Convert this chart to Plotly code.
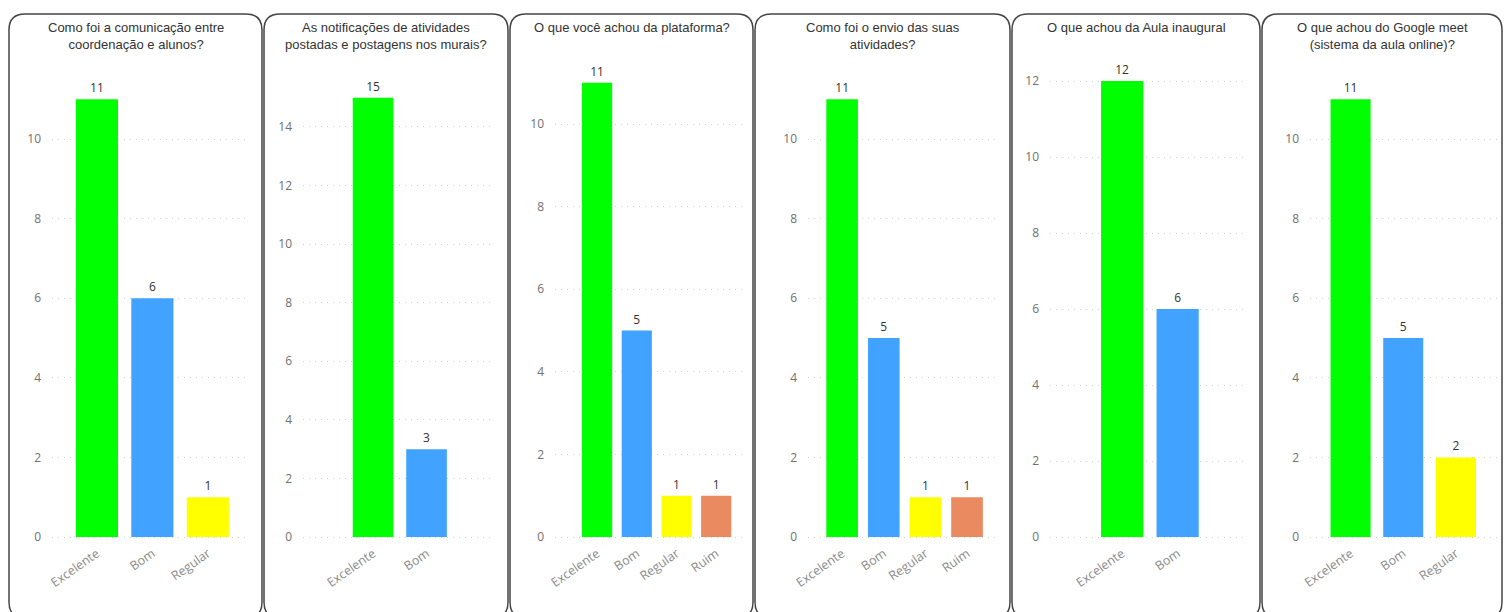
import plotly.graph_objects as go

W, H = 1504, 612

# ---- data ----
titles = [
    "Como foi a comunicação entre<br>coordenação e alunos?",
    "As notificações de atividades<br>postadas e postagens nos murais?",
    "O que você achou da plataforma?",
    "Como foi o envio das suas<br>atividades?",
    "O que achou da Aula inaugural",
    "O que achou do Google meet<br>(sistema da aula online)?",
]
cats_1 = ["Excelente", "Bom", "Regular"]
vals_1 = [11, 6, 1]
cats_2 = ["Excelente", "Bom"]
vals_2 = [15, 3]
cats_3 = ["Excelente", "Bom", "Regular", "Ruim"]
vals_3 = [11, 5, 1, 1]
cats_4 = ["Excelente", "Bom", "Regular", "Ruim"]
vals_4 = [11, 5, 1, 1]
cats_5 = ["Excelente", "Bom"]
vals_5 = [12, 6]
cats_6 = ["Excelente", "Bom", "Regular"]
vals_6 = [11, 5, 2]

colors = {"Excelente": "#00FF00", "Bom": "#41A3FF", "Regular": "#FFFF00", "Ruim": "#EA8A60"}

cats = [cats_1, cats_2, cats_3, cats_4, cats_5, cats_6]
vals = [vals_1, vals_2, vals_3, vals_4, vals_5, vals_6]

# ---- layout (pixel geometry) ----
panels = [(9, 262), (264, 508), (510, 753), (755, 1010), (1012, 1260), (1262, 1502)]
plot_x = [(52, 250), (303, 495), (555, 742), (808, 997), (1050, 1247), (1310, 1497)]
xranges = [(-0.81, 2.76), (-1.31, 2.28), (-1.06, 3.65), (-0.82, 3.72), (-1.30, 2.25), (-0.77, 2.78)]
px_per_unit = [39.8, 29.29, 41.3, 39.8, 38.0, 39.8]
zero_px = 537
top_px = 70
bot_px = 541

def px2x(p):
    return p / W

def px2y(p):
    return 1 - p / H

fig = go.Figure()
shapes = []
annotations = []
for i in range(6):
    n = i + 1
    xa = "x" if n == 1 else f"x{n}"
    ya = "y" if n == 1 else f"y{n}"
    fig.add_trace(go.Bar(
        x=cats[i], y=vals[i],
        marker=dict(color=[colors[c] for c in cats[i]], line=dict(width=0)),
        text=[str(v) for v in vals[i]], textposition="outside",
        textfont=dict(family="Open Sans, sans-serif", size=12, color="#333333"),
        cliponaxis=False, xaxis=xa, yaxis=ya, showlegend=False,
        hoverinfo="x+y",
    ))
    k = px_per_unit[i]
    ymin = -(bot_px - zero_px) / k
    ymax = (zero_px - top_px) / k
    xaxis_key = "xaxis" if n == 1 else f"xaxis{n}"
    yaxis_key = "yaxis" if n == 1 else f"yaxis{n}"
    fig.update_layout(**{
        xaxis_key: dict(
            domain=[px2x(plot_x[i][0]), px2x(plot_x[i][1])],
            anchor=ya, range=list(xranges[i]), type="category",
            showgrid=False, showline=False, zeroline=False, ticks="",
            tickangle=-35, automargin=False, ticklabelstandoff=2,
            tickfont=dict(family="Open Sans, sans-serif", size=12.5, color="#8a8a8a"),
        ),
        yaxis_key: dict(
            domain=[px2y(bot_px), px2y(top_px)],
            anchor=xa, range=[ymin, ymax], dtick=2, tick0=0,
            showgrid=True, gridcolor="#cfcfcf", griddash="1px,5px", gridwidth=1,
            showline=False, zeroline=False, ticks="", automargin=False,
            ticklabelstandoff=10,
            tickfont=dict(family="Open Sans, sans-serif", size=12, color="#707070"),
        ),
    })
    # panel border (rounded rect), pixel coordinates
    x0, x1 = panels[i]
    y0, y1 = 14, 618
    r = 16
    pts = [("M", [(x0 + r, y0)]), ("L", [(x1 - r, y0)]), ("Q", [(x1, y0), (x1, y0 + r)]),
           ("L", [(x1, y1 - r)]), ("Q", [(x1, y1), (x1 - r, y1)]), ("L", [(x0 + r, y1)]),
           ("Q", [(x0, y1), (x0, y1 - r)]), ("L", [(x0, y0 + r)]), ("Q", [(x0, y0), (x0 + r, y0)])]
    path = " ".join(cmd + " " + " ".join(f"{px2x(a):.6f},{px2y(b):.6f}" for a, b in ps)
                    for cmd, ps in pts) + " Z"
    shapes.append(dict(type="path", path=path, xref="paper", yref="paper",
                       line=dict(color="#444444", width=1.5), fillcolor="rgba(0,0,0,0)", layer="above"))
    annotations.append(dict(
        text=titles[i], x=(x0 + x1) / 2 / W, y=px2y(18), xref="paper", yref="paper",
        xanchor="center", yanchor="top", showarrow=False, align="center",
        font=dict(family="Liberation Sans, Arial, sans-serif", size=13, color="#333333"),
    ))

fig.update_layout(
    width=W, height=H, margin=dict(l=0, r=0, t=0, b=0, pad=0, autoexpand=False),
    paper_bgcolor="white", plot_bgcolor="white",
    bargap=0.24, shapes=shapes, annotations=annotations,
)
fig.write_html("out.html", config={"displayModeBar": False},
               post_script="document.body.style.margin='0';")
